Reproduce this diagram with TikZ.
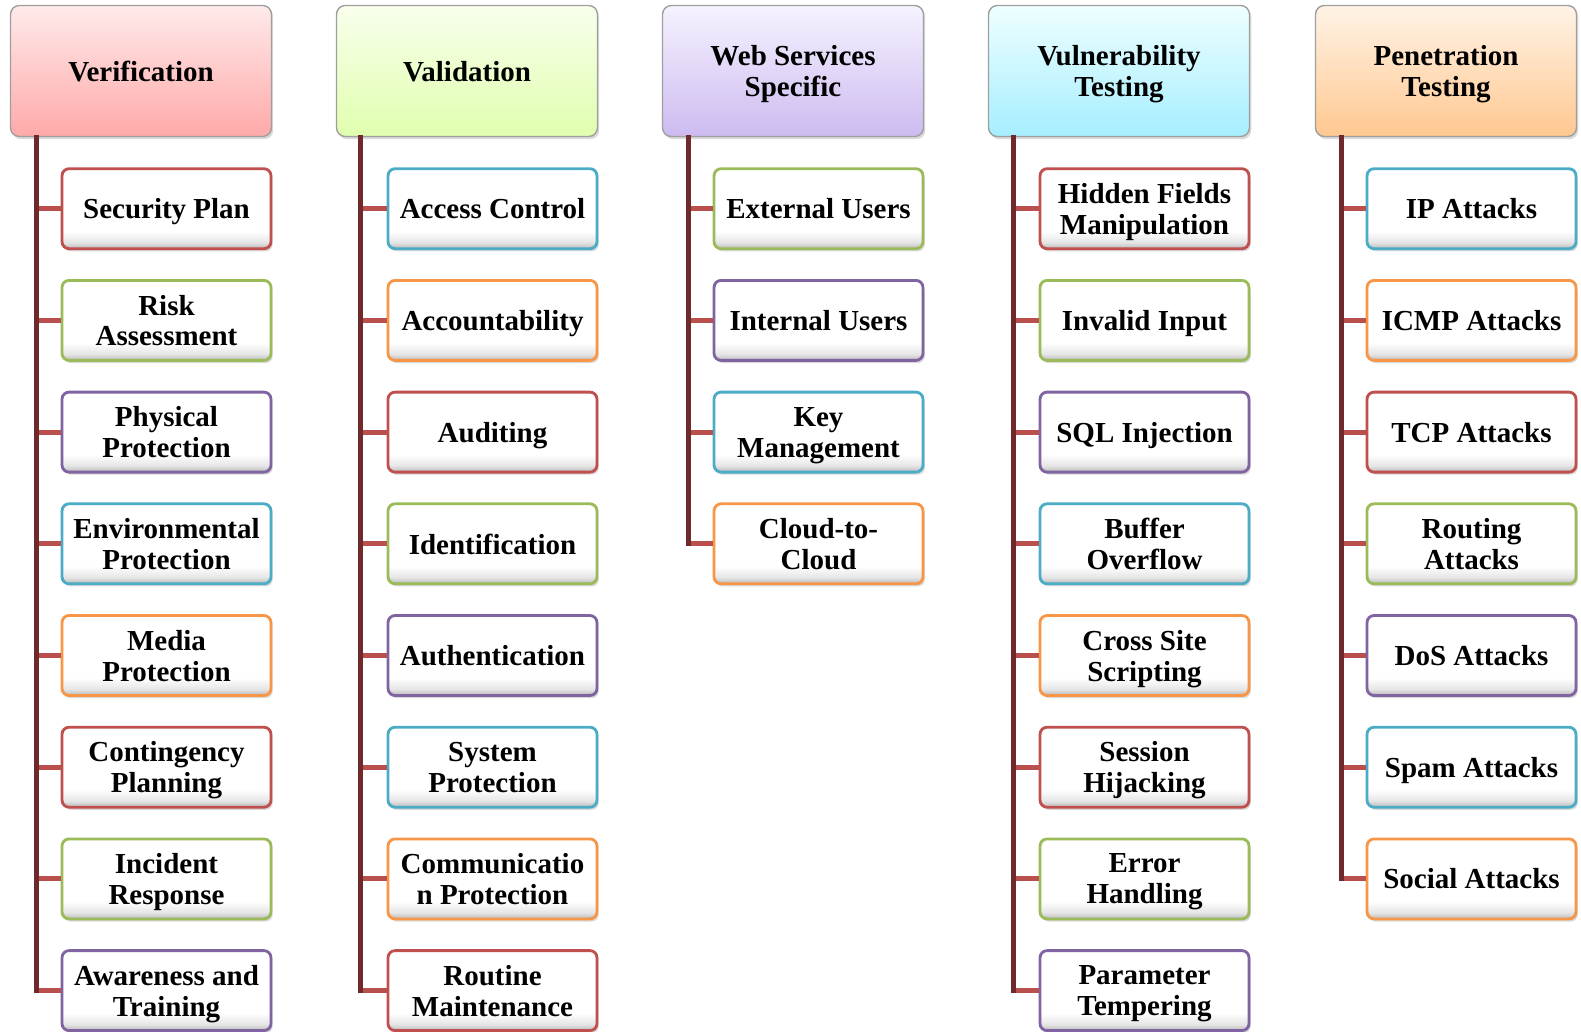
\documentclass[tikz,border=0pt]{standalone}
\usepackage{fontspec}
\setmainfont{Liberation Serif}
\usetikzlibrary{positioning,shadows}
\definecolor{cred}{HTML}{C0504D}
\definecolor{cgreen}{HTML}{9BBB59}
\definecolor{cpurple}{HTML}{8064A2}
\definecolor{cteal}{HTML}{4BACC6}
\definecolor{corange}{HTML}{F79646}
\definecolor{trunkc}{HTML}{6E2A2A}
\definecolor{stubc}{HTML}{B9504D}
\definecolor{verTop}{HTML}{FFEAEA}
\definecolor{verBot}{HTML}{FFA9A9}
\definecolor{valTop}{HTML}{F8FFEC}
\definecolor{valBot}{HTML}{E0FFAE}
\definecolor{webTop}{HTML}{F6F2FF}
\definecolor{webBot}{HTML}{CDBBF0}
\definecolor{vulTop}{HTML}{EEFFFF}
\definecolor{vulBot}{HTML}{A6EEFF}
\definecolor{penTop}{HTML}{FFF3E6}
\definecolor{penBot}{HTML}{FFC890}
\pgfdeclareverticalshading{boxshade}{100bp}{color(0bp)=(gray!55); color(25bp)=(gray!55); color(29bp)=(gray!20); color(36bp)=(white); color(100bp)=(white)}

\begin{document}
\begin{tikzpicture}[x=0.02cm,y=-0.02cm,
	head/.style={rectangle,rounded corners=5pt,draw=gray!75,line width=0.8pt,minimum width=5.22cm,minimum height=2.62cm,align=center,text depth=0pt,font=\bfseries\fontsize{16.5}{17.6}\selectfont,drop shadow={shadow xshift=1pt,shadow yshift=-1.5pt,opacity=0.3}},
	item/.style={rectangle,rounded corners=4pt,draw=#1,line width=1.6pt,minimum width=4.18cm,minimum height=1.6cm,inner xsep=2pt,align=center,text depth=0pt,font=\bfseries\fontsize{16.5}{17.6}\selectfont,shading=boxshade,drop shadow={shadow xshift=1pt,shadow yshift=-1.5pt,opacity=0.3}},
	trunk/.style={draw=trunkc,line width=0.1cm,line cap=rect},
	stub/.style={draw=stubc,line width=0.1cm}]
	\useasboundingbox (0,0) rectangle (1581,1031);

	\node (ver) at (141,71) [head,top color=verTop,bottom color=verBot] {Verification};
	\coordinate (ver-t) at ([shift={(27,0)}]ver.south west);
	\foreach \txt/\c [count=\i] in {Security Plan/cred,{Risk\\Assessment}/cgreen,{Physical\\Protection}/cpurple,{Environmental\\Protection}/cteal,{Media\\Protection}/corange,{Contingency\\Planning}/cred,{Incident\\Response}/cgreen,{Awareness and\\Training}/cpurple}{
		\node (ver-\i) at (166.5,{208.7+111.7*(\i-1)}) [item=\c] {\txt};
		\draw [stub] (ver-t |- ver-\i) -- (ver-\i);
	}
	\draw [trunk] (ver-t) -- (ver-t |- ver-8);

	\node (val) at (467,71) [head,top color=valTop,bottom color=valBot] {Validation};
	\coordinate (val-t) at ([shift={(25,0)}]val.south west);
	\foreach \txt/\c [count=\i] in {Access Control/cteal,Accountability/corange,Auditing/cred,Identification/cgreen,Authentication/cpurple,{System\\Protection}/cteal,{Communicatio\\n Protection}/corange,{Routine\\Maintenance}/cred}{
		\node (val-\i) at (492.5,{208.7+111.7*(\i-1)}) [item=\c] {\txt};
		\draw [stub] (val-t |- val-\i) -- (val-\i);
	}
	\draw [trunk] (val-t) -- (val-t |- val-8);

	\node (web) at (793,71) [head,top color=webTop,bottom color=webBot] {Web Services\\Specific};
	\coordinate (web-t) at ([shift={(27,0)}]web.south west);
	\foreach \txt/\c [count=\i] in {External Users/cgreen,Internal Users/cpurple,{Key\\Management}/cteal,{Cloud-to-\\Cloud}/corange}{
		\node (web-\i) at (818.5,{208.7+111.7*(\i-1)}) [item=\c] {\txt};
		\draw [stub] (web-t |- web-\i) -- (web-\i);
	}
	\draw [trunk] (web-t) -- (web-t |- web-4);

	\node (vul) at (1119,71) [head,top color=vulTop,bottom color=vulBot] {Vulnerability\\Testing};
	\coordinate (vul-t) at ([shift={(26,0)}]vul.south west);
	\foreach \txt/\c [count=\i] in {{Hidden Fields\\Manipulation}/cred,Invalid Input/cgreen,SQL Injection/cpurple,{Buffer\\Overflow}/cteal,{Cross Site\\Scripting}/corange,{Session\\Hijacking}/cred,{Error\\Handling}/cgreen,{Parameter\\Tempering}/cpurple}{
		\node (vul-\i) at (1144.5,{208.7+111.7*(\i-1)}) [item=\c] {\txt};
		\draw [stub] (vul-t |- vul-\i) -- (vul-\i);
	}
	\draw [trunk] (vul-t) -- (vul-t |- vul-8);

	\node (pen) at (1446,71) [head,top color=penTop,bottom color=penBot] {Penetration\\Testing};
	\coordinate (pen-t) at ([shift={(27,0)}]pen.south west);
	\foreach \txt/\c [count=\i] in {IP Attacks/cteal,ICMP Attacks/corange,TCP Attacks/cred,{Routing\\Attacks}/cgreen,DoS Attacks/cpurple,Spam Attacks/cteal,Social Attacks/corange}{
		\node (pen-\i) at (1471.5,{208.7+111.7*(\i-1)}) [item=\c] {\txt};
		\draw [stub] (pen-t |- pen-\i) -- (pen-\i);
	}
	\draw [trunk] (pen-t) -- (pen-t |- pen-7);
\end{tikzpicture}
\end{document}
